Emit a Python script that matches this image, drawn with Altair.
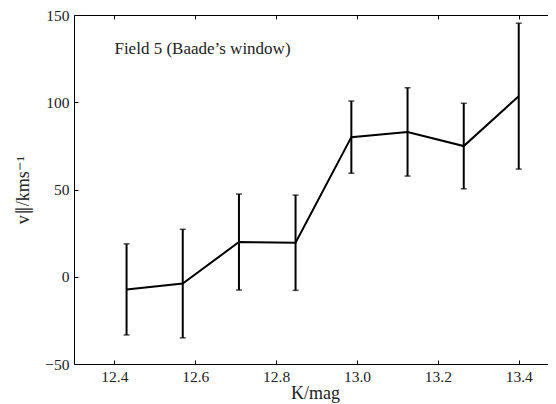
import altair as alt
import pandas as pd

K = [12.430, 12.569, 12.708, 12.848, 12.986, 13.125, 13.264, 13.400]
v = [-7.25, -3.9, 19.9, 19.5, 80.0, 83.0, 74.9, 103.5]
err = [26.1, 31.1, 27.5, 27.3, 20.7, 25.3, 24.5, 41.8]

x_ticks = [12.4, 12.6, 12.8, 13.0, 13.2, 13.4]
y_ticks = [-50, 0, 50, 100, 150]
note = ["Field 5 (Baade\u2019s window)"]
note_pos = [(12.4, 127.6)]

df = pd.DataFrame({"K": K, "v": v, "err": err})
df["lo"] = df["v"] - df["err"]
df["hi"] = df["v"] + df["err"]

W, H = 482, 349
FONT = "Liberation Serif"
xs = alt.Scale(domain=[12.3, 12.3 + W / 404.3], nice=False, zero=False)
ys = alt.Scale(domain=[-50, 150], nice=False, zero=False)

base = alt.Chart(df)

line = base.mark_line(color="black", strokeWidth=2).encode(
    x=alt.X("K:Q", scale=xs, axis=alt.Axis(
        orient="bottom", values=x_ticks, format=".1f", tickSize=0, labelPadding=5,
        grid=False, domain=True, domainColor="black", domainWidth=1,
        labelFont=FONT, labelFontSize=15.5, labelColor="#222",
        title="K/mag", titleFont=FONT, titleFontSize=18, titleFontWeight="normal",
        titleColor="#222", titleBaseline="alphabetic", titleY=34)),
    y=alt.Y("v:Q", scale=ys, axis=alt.Axis(
        orient="left", values=y_ticks, tickSize=0, labelPadding=5,
        labelExpr="replace(datum.label, '-', '\u2212')",
        grid=False, domain=True, domainColor="black", domainWidth=1,
        labelFont=FONT, labelFontSize=15.5, labelColor="#222",
        title="v\u2225/kms\u207b\u00b9", titleFont=FONT, titleFontSize=18,
        titleFontWeight="normal", titleColor="#222",
        titleBaseline="alphabetic", titleX=-46)),
)

bars = base.mark_rule(color="black", strokeWidth=2).encode(
    x=alt.X("K:Q", scale=xs, axis=alt.Axis(
        orient="top", offset=-H, values=x_ticks, labels=False, tickSize=4,
        tickColor="black", domain=False, grid=False, title="")),
    y=alt.Y("lo:Q", scale=ys, axis=alt.Axis(
        orient="right", offset=-W, values=y_ticks, labels=False, tickSize=4,
        tickColor="black", domain=False, grid=False, title="")),
    y2="hi:Q",
)

caps_hi = base.mark_tick(color="black", size=6, thickness=1.5, orient="horizontal").encode(
    x=alt.X("K:Q", scale=xs, axis=alt.Axis(
        orient="bottom", offset=-H, values=x_ticks, labels=False, tickSize=4,
        tickColor="black", domain=True, domainColor="black", domainWidth=1,
        grid=False, title="")),
    y=alt.Y("hi:Q", scale=ys, axis=alt.Axis(
        orient="left", offset=-W, values=y_ticks, labels=False, tickSize=4,
        tickColor="black", domain=False, grid=False, title="")),
)

caps_lo = base.mark_tick(color="black", size=6, thickness=1.5, orient="horizontal").encode(
    x=alt.X("K:Q", scale=xs, axis=None),
    y=alt.Y("lo:Q", scale=ys, axis=None),
)

ndf = pd.DataFrame({"t": note, "x": [p[0] for p in note_pos], "y": [p[1] for p in note_pos]})
text = alt.Chart(ndf).mark_text(
    align="left", baseline="alphabetic", font=FONT, fontSize=17, color="#222"
).encode(
    x=alt.X("x:Q", scale=xs, axis=None),
    y=alt.Y("y:Q", scale=ys, axis=None),
    text="t:N",
)

chart = alt.layer(line, bars, caps_hi, caps_lo, text).resolve_axis(
    x="independent", y="independent"
).properties(
    width=W, height=H,
    autosize=alt.AutoSizeParams(type="none"),
    padding={"left": 66, "top": 7, "right": -8, "bottom": 40},
).configure_view(stroke=None)

chart.save("out.html", embed_options={"renderer": "svg", "actions": False})
